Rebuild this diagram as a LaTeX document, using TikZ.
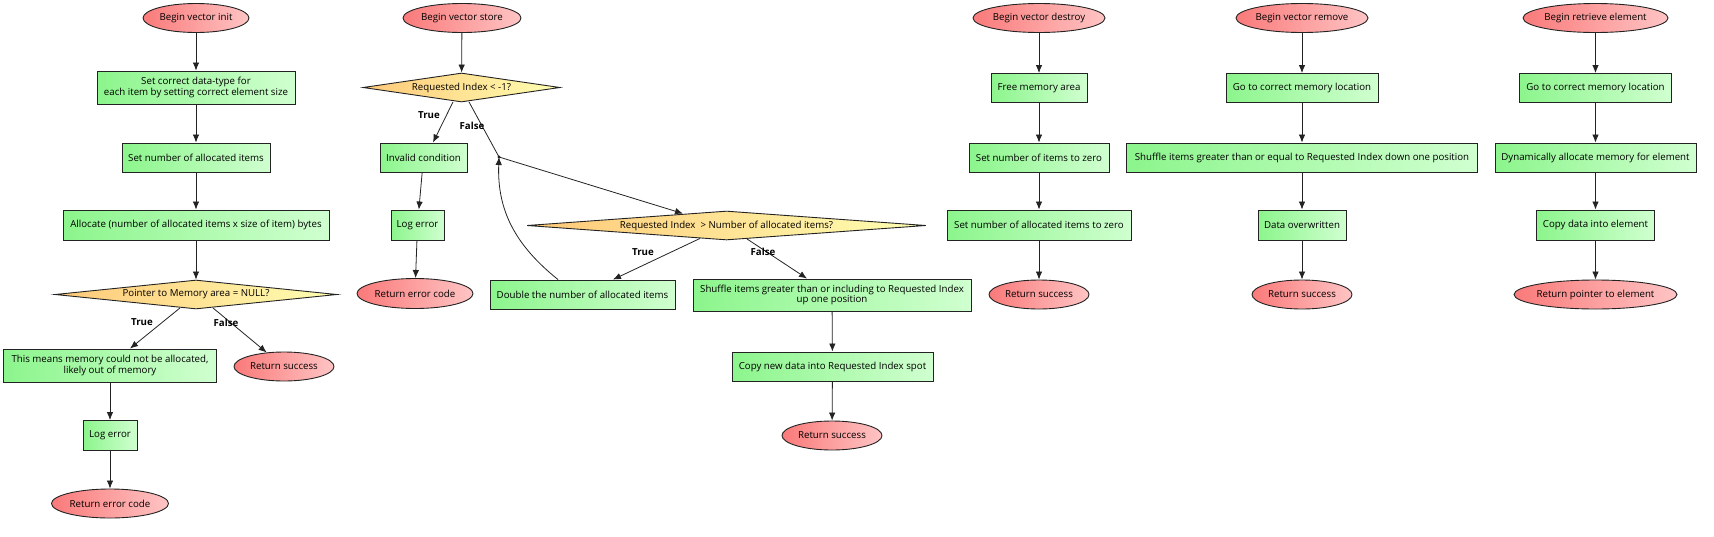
\documentclass[tikz,border=0pt]{standalone}
\usepackage{fontspec}
\setmainfont{Open Sans}
\usetikzlibrary{shapes.geometric,arrows.meta}
\definecolor{elA}{RGB}{250,122,122}
\definecolor{elB}{RGB}{255,196,196}
\definecolor{bxA}{RGB}{140,245,140}
\definecolor{bxB}{RGB}{208,255,208}
\definecolor{dmA}{RGB}{255,200,120}
\definecolor{dmB}{RGB}{255,255,178}
\definecolor{ln}{RGB}{35,35,35}
\tikzset{
 base/.style={draw=ln, line width=0.9pt, inner sep=0pt, font=\fontsize{9.7}{10.8}\selectfont},
 term/.style={base, ellipse, left color=elA, right color=elB, minimum height=29pt},
 proc/.style={base, rectangle, left color=bxA, right color=bxB, align=center},
 dec/.style={base, diamond, left color=dmA, right color=dmB, minimum height=29pt},
 flow/.style={draw=ln, line width=0.8pt, -{Latex[length=8pt,width=6.5pt]}},
 plain/.style={draw=ln, line width=0.8pt},
 lbl/.style={font=\fontsize{9.7}{11}\selectfont\bfseries, inner sep=0pt},
}
\begin{document}
\begin{tikzpicture}[x=1pt,y=-1pt]
\useasboundingbox (0,0) rectangle (1714,536);
% ---------- vector init ----------
\node[term, minimum width=106pt] (i0) at (196,18) {\makebox[0pt]{Begin vector init}};
\node[proc, minimum width=198pt, minimum height=33pt] (i1) at (196,87.5) {Set correct data-type for\\each item by setting correct element size};
\node[proc, minimum width=148pt, minimum height=29pt] (i2) at (196,157.5) {Set number of allocated items};
\node[proc, minimum width=266pt, minimum height=30pt] (i3) at (196,225) {Allocate (number of allocated items x size of item) bytes};
\node[dec, minimum width=282pt] (i4) at (196,294.5) {\makebox[0pt]{Pointer to Memory area = NULL?}};
\node[proc, minimum width=213pt, minimum height=33pt] (i5) at (110,365.5) {This means memory could not be allocated,\\likely out of memory};
\node[term, minimum width=100pt] (i6) at (284,366.5) {\makebox[0pt]{Return success}};
\node[proc, minimum width=54pt, minimum height=30pt] (i7) at (110,435.5) {Log error};
\node[term, minimum width=117pt] (i8) at (110,503.5) {\makebox[0pt]{Return error code}};
\draw[flow] (i0) -- (i1);
\draw[flow] (i1) -- (i2);
\draw[flow] (i2) -- (i3);
\draw[flow] (i3) -- (i4);
\draw[flow] ([xshift=-16pt,yshift=1.5pt]i4.south) -- ([xshift=20pt]i5.north);
\draw[flow] ([xshift=17pt,yshift=1.5pt]i4.south) -- (i6.141);
\draw[flow] (i5) -- (i7);
\draw[flow] (i7) -- (i8);
\node[lbl] (li1) at (142,322) {True};
\node[lbl] (li2) at (226,323) {False};
% ---------- vector store ----------
\node[term, minimum width=118pt] (s0) at (462,18) {\makebox[0pt]{Begin vector store}};
\node[dec, minimum width=197pt] (s1) at (461.5,87.5) {\makebox[0pt]{Requested Index < -1?}};
\node[proc, minimum width=87pt, minimum height=29pt] (s2) at (423.5,157.5) {Invalid condition};
\node[proc, minimum width=53pt, minimum height=30pt] (s3) at (417.5,225) {Log error};
\node[term, minimum width=116pt, minimum height=30pt] (s4) at (415,293.5) {\makebox[0pt]{Return error code}};
\coordinate (j) at (499,157);
\node[circle, fill=ln, inner sep=0pt, minimum size=3.2pt] (jd) at (j) {};
\node[dec, minimum width=399pt] (s5) at (726.5,225.5) {\makebox[0pt]{Requested Index \ > Number of allocated items?}};
\node[proc, minimum width=185pt, minimum height=29pt] (s6) at (582.5,294.5) {Double the number of allocated items};
\node[proc, minimum width=278pt, minimum height=32pt] (s7) at (832,295) {Shuffle items greater than or including to Requested Index\\up one position};
\node[proc, minimum width=201pt, minimum height=29pt] (s8) at (832.5,366.5) {Copy new data into Requested Index spot};
\node[term, minimum width=100pt] (s9) at (832,435.5) {\makebox[0pt]{Return success}};
\draw[flow] (s0) -- (s1);
\draw[flow] ([xshift=-8.5pt,yshift=0.5pt]s1.south) -- ([xshift=9.5pt]s2.north);
\draw[plain] ([xshift=7.5pt,yshift=0.5pt]s1.south) -- (j);
\draw[flow] (j) -- ([xshift=-43.5pt,yshift=-3pt]s5.north);
\draw[flow] (s2) -- (s3);
\draw[flow] (s3) -- (s4);
\draw[flow] ([xshift=-26.5pt,yshift=2pt]s5.south) -- ([xshift=30.5pt]s6.north);
\draw[flow] ([xshift=20.5pt,yshift=1.5pt]s5.south) -- ([xshift=-25pt]s7.north);
\draw[flow] ([xshift=-24.5pt]s6.north) .. controls (515,245) and (497,210) .. (j);
\draw[flow] (s7) -- (s8);
\draw[flow] (s8) -- (s9);
\node[lbl] (ls1) at (429,115) {True};
\node[lbl] (ls2) at (472,126) {False};
\node[lbl] (ls3) at (643,252) {True};
\node[lbl] (ls4) at (763,252) {False};
% ---------- vector destroy ----------
\node[term, minimum width=132pt] (d0) at (1039,18) {\makebox[0pt]{Begin vector destroy}};
\node[proc, minimum width=96pt, minimum height=29pt] (d1) at (1039,88) {Free memory area};
\node[proc, minimum width=140pt, minimum height=29pt] (d2) at (1039,157.5) {Set number of items to zero};
\node[proc, minimum width=184pt, minimum height=30pt] (d3) at (1039,225) {Set number of allocated items to zero};
\node[term, minimum width=100pt] (d4) at (1039,294.5) {\makebox[0pt]{Return success}};
\draw[flow] (d0) -- (d1);
\draw[flow] (d1) -- (d2);
\draw[flow] (d2) -- (d3);
\draw[flow] (d3) -- (d4);
% ---------- vector remove ----------
\node[term, minimum width=132pt] (r0) at (1302,18) {\makebox[0pt]{Begin vector remove}};
\node[proc, minimum width=152pt, minimum height=29pt] (r1) at (1302,88) {Go to correct memory location};
\node[proc, minimum width=351pt, minimum height=29pt] (r2) at (1302,157.5) {Shuffle items greater than or equal to Requested Index down one position};
\node[proc, minimum width=88pt, minimum height=30pt] (r3) at (1302,225) {Data overwritten};
\node[term, minimum width=100pt] (r4) at (1302,294.5) {\makebox[0pt]{Return success}};
\draw[flow] (r0) -- (r1);
\draw[flow] (r1) -- (r2);
\draw[flow] (r2) -- (r3);
\draw[flow] (r3) -- (r4);
% ---------- retrieve element ----------
\node[term, minimum width=145pt] (t0) at (1595.5,18) {\makebox[0pt]{Begin retrieve element}};
\node[proc, minimum width=152pt, minimum height=29pt] (t1) at (1595.5,88) {Go to correct memory location};
\node[proc, minimum width=201pt, minimum height=29pt] (t2) at (1595.5,157.5) {Dynamically allocate memory for element};
\node[proc, minimum width=118pt, minimum height=30pt] (t3) at (1595.5,225) {Copy data into element};
\node[term, minimum width=163pt] (t4) at (1595.5,294.5) {\makebox[0pt]{Return pointer to element}};
\draw[flow] (t0) -- (t1);
\draw[flow] (t1) -- (t2);
\draw[flow] (t2) -- (t3);
\draw[flow] (t3) -- (t4);
\end{tikzpicture}
\end{document}
